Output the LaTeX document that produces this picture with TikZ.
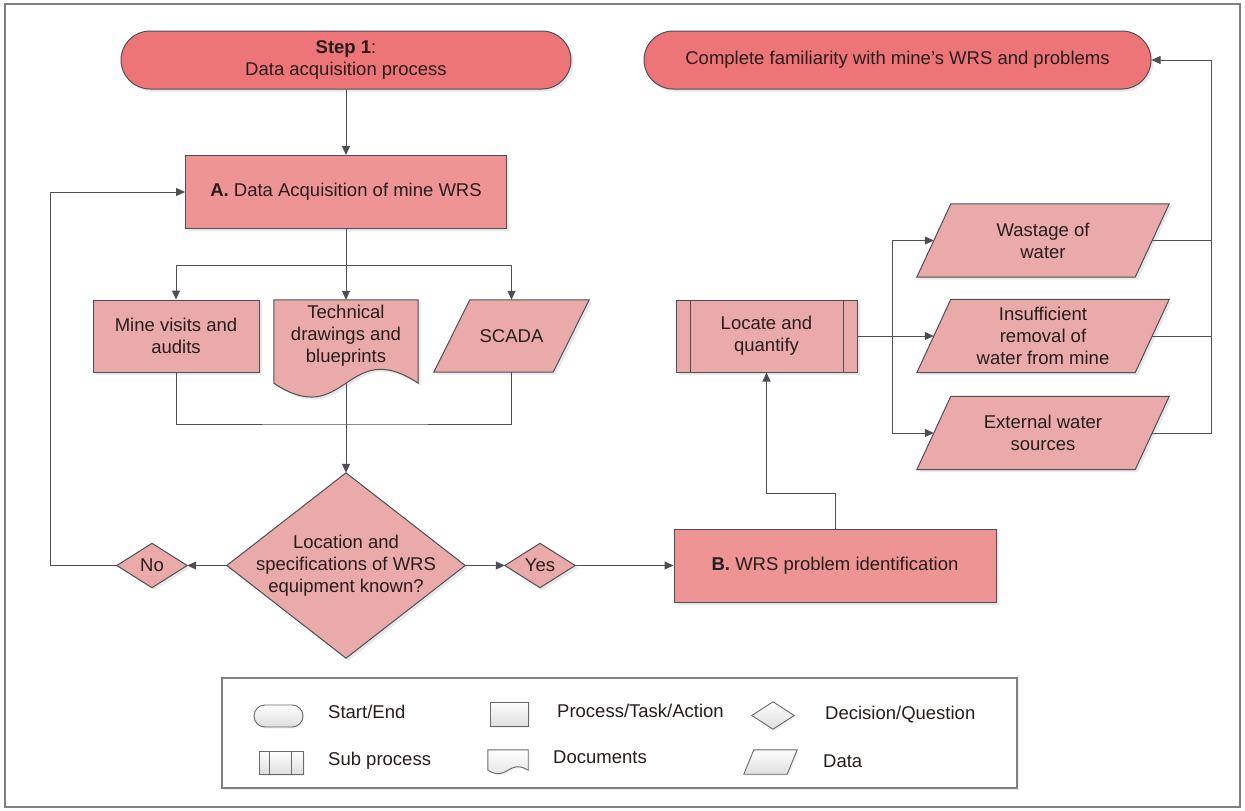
\documentclass[tikz,border=0pt]{standalone}
\usepackage{fontspec}
\setmainfont{Liberation Sans}
\usetikzlibrary{arrows.meta,shadows}
\pgfdeclarelayer{bg}
\pgfsetlayers{bg,main}

\definecolor{termfill}{RGB}{237,117,119}
\definecolor{procfill}{RGB}{238,148,148}
\definecolor{lightfill}{RGB}{235,170,170}
\definecolor{edgec}{RGB}{78,78,84}
\definecolor{ink}{RGB}{40,28,28}
\definecolor{framec}{RGB}{128,128,128}
\definecolor{legedge}{RGB}{105,105,105}

% parallelogram outline around a holder node: #1 name, #2 slant, #3 style
\newcommand\DataOutline[3]{%
  \path[#3] (#1.south west) -- ([xshift=-#2pt]#1.south east) -- (#1.north east)
    -- ([xshift=#2pt]#1.north west) -- cycle;}
% diamond outline spanning a holder node
\newcommand\DiamondOutline[2]{%
  \path[#2] (#1.north) -- (#1.east) -- (#1.south) -- (#1.west) -- cycle;}

\tikzset{
  softshadow/.style={drop shadow={opacity=0.18,shadow xshift=2.5pt,shadow yshift=-2.5pt}},
  outline/.style={draw=edgec, line width=1pt},
  term/.style={outline, fill=termfill, rounded corners=29pt, minimum height=58pt, softshadow},
  procbox/.style={outline, fill=procfill, minimum height=73pt, softshadow},
  lightbox/.style={outline, fill=lightfill, minimum height=72pt, softshadow},
  holder/.style={minimum height=72pt},
  lightshape/.style={outline, fill=lightfill, softshadow},
  conn/.style={draw=edgec, line width=1pt},
  arr/.style={conn, -{Triangle[length=9pt,width=8pt]}},
  legsym/.style={draw=legedge, line width=0.9pt, top color=white, bottom color=black!13,
    drop shadow={opacity=0.12,shadow xshift=1.5pt,shadow yshift=-1.5pt}},
  leglabel/.style={anchor=west, text height=13pt, text depth=3.5pt},
}

\begin{document}
\begin{tikzpicture}[x=1pt,y=-1pt,
  font=\fontsize{18.5}{22}\selectfont,
  every node/.style={text=ink, align=center, inner sep=0pt}]

\useasboundingbox (0,0) rectangle (1245,811);
\draw[framec, line width=1.5pt] (5,4) rectangle (1240,807);

% ---- terminals
\node[term, minimum width=450pt] (start) at (346,60) {\textbf{Step 1}:\\Data acquisition process};
\node[term, minimum width=507pt] (done) at (897.5,60) {Complete familiarity with mine's WRS and problems};

% ---- stage A
\node[procbox, minimum width=321pt] (A) at (346,192) {\textbf{A.} Data Acquisition of mine WRS};
\node[lightbox, minimum width=166pt] (mine) at (176,336) {Mine visits and\\audits};
\node[holder, minimum width=144pt] (doc) at (346,336) {Technical\\drawings and\\blueprints};
\node[holder, minimum width=155pt] (scada) at (511.5,336) {SCADA};
\coordinate (docbot) at ([yshift=-11pt]doc.south);
\coordinate (merge) at (346,424);

% ---- decision
\node[minimum width=238pt, minimum height=185pt] (dec) at (346,565.5) {Location and\\specifications of WRS\\equipment known?};
\node[minimum width=70pt, minimum height=44pt] (no) at (152,565.5) {No};
\node[minimum width=70pt, minimum height=44pt] (yes) at (540,565.5) {Yes};
\coordinate (fbcorner) at (50,565.5);

% ---- stage B
\node[procbox, minimum width=322pt] (B) at (835,565.5) {\textbf{B.} WRS problem identification};
\node[lightbox, minimum width=181pt] (loc) at (766.5,336) {Locate and\\quantify};
\node[holder, minimum width=252pt, minimum height=73pt] (wst) at (1043,240.5) {Wastage of\\water};
\node[holder, minimum width=252pt, minimum height=73pt] (ins) at (1043,336) {Insufficient\\removal of\\water from mine};
\node[holder, minimum width=252pt, minimum height=73pt] (ext) at (1043,433) {External water\\sources};
\coordinate (split) at (892,336);
\coordinate (railtop) at (1211,60);

% ---- shape outlines behind the texts
\begin{pgfonlayer}{bg}
  \path[lightshape] (doc.north west) -- (doc.north east) -- (docbot -| doc.east)
    .. controls ([yshift=37pt]doc.south) and ([yshift=-59pt]doc.south) .. (docbot -| doc.west) -- cycle;
  \DataOutline{scada}{36}{lightshape}
  \DiamondOutline{dec}{lightshape}
  \DiamondOutline{no}{lightshape}
  \DiamondOutline{yes}{lightshape}
  \DataOutline{wst}{34}{lightshape}
  \DataOutline{ins}{34}{lightshape}
  \DataOutline{ext}{34}{lightshape}
\end{pgfonlayer}
\draw[outline] ([xshift=15pt]loc.north west) -- ([xshift=15pt]loc.south west);
\draw[outline] ([xshift=-14pt]loc.north east) -- ([xshift=-14pt]loc.south east);

% ---- connectors, stage A
\draw[arr] (start) -- (A);
\draw[arr] (A.south) -- (doc.north);
\draw[arr] (A.south) -- ++(0,36) -| (mine.north);
\draw[arr] (A.south) -- ++(0,36) -| (scada.north);
\draw[conn] (mine.south) |- (merge) -| (scada.south);
\draw[arr] (docbot) -- (dec.north);
\draw[arr] (dec.west) -- (no.east);
\draw[arr] (no.west) -- (fbcorner) |- (A.west);
\draw[arr] (dec.east) -- (yes.west);
\draw[arr] (yes.east) -- (B.west);

% ---- connectors, stage B
\draw[arr] (B.north) -- ++(0,-35) -| (loc.south);
\draw[arr] (loc.east) -- ([xshift=17pt]ins.west);
\draw[arr] (split) |- ([xshift=17pt]wst.west);
\draw[arr] (split) |- ([xshift=17pt]ext.west);
\draw[conn] ([xshift=-17pt]wst.east) -- (wst.east -| railtop);
\draw[conn] ([xshift=-17pt]ins.east) -- (ins.east -| railtop);
\draw[arr] ([xshift=-17pt]ext.east) -| (railtop) -- (done.east);

% ---- legend
\draw[framec, line width=1.2pt, drop shadow={opacity=0.12,shadow xshift=2pt,shadow yshift=-2pt}, fill=white]
  (222,678) rectangle (1017,788);
\node[legsym, rounded corners=11pt, minimum width=49pt, minimum height=22pt] (lgterm) at (278.5,716) {};
\node[legsym, minimum width=38pt, minimum height=24pt] (lgproc) at (509,714) {};
\node[minimum width=42pt, minimum height=27pt] (lgdec) at (773,715.5) {};
\node[legsym, minimum width=44pt, minimum height=23pt] (lgsub) at (281,762.5) {};
\node[minimum width=40pt, minimum height=20pt] (lgdoc) at (508,760) {};
\node[minimum width=53pt, minimum height=24pt] (lgdata) at (770.5,762) {};
\DiamondOutline{lgdec}{legsym}
\DataOutline{lgdata}{10}{legsym}
\path[legsym] (lgdoc.north west) -- (lgdoc.north east) -- (lgdoc.south east)
  .. controls ([yshift=12pt]lgdoc.south) and ([yshift=-12pt]lgdoc.south) .. (lgdoc.south west) -- cycle;
\draw[legedge, line width=0.9pt] ([xshift=11pt]lgsub.north west) -- ([xshift=11pt]lgsub.south west);
\draw[legedge, line width=0.9pt] ([xshift=-12pt]lgsub.north east) -- ([xshift=-12pt]lgsub.south east);

\node[leglabel] (lbterm) at (328,714) {Start/End};
\node[leglabel] (lbproc) at (557,713) {Process/Task/Action};
\node[leglabel] (lbdec) at (825,715) {Decision/Question};
\node[leglabel] (lbsub) at (328,761) {Sub process};
\node[leglabel] (lbdoc) at (553,759) {Documents};
\node[leglabel] (lbdata) at (823,763) {Data};
\end{tikzpicture}
\end{document}
